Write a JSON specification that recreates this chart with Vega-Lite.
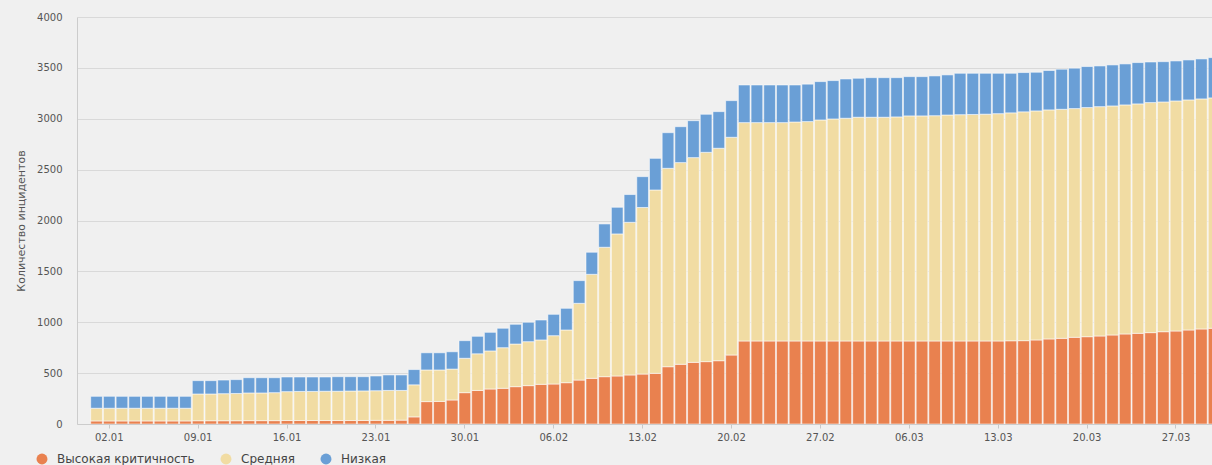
{
  "$schema": "https://vega.github.io/schema/vega-lite/v6.json",
  "width": 1135,
  "height": 407,
  "autosize": "none",
  "padding": {"left": 77, "top": 17, "right": 0, "bottom": 41},
  "background": "#f0f0f0",
  "config": {"view": {"stroke": null}, "font": "DejaVu Sans"},
  "data": {"values": [
    {"date": "2017/01/01", "c": 30, "b": 125, "a": 117},
    {"date": "2017/01/02", "c": 30, "b": 125, "a": 117},
    {"date": "2017/01/03", "c": 30, "b": 125, "a": 117},
    {"date": "2017/01/04", "c": 30, "b": 125, "a": 117},
    {"date": "2017/01/05", "c": 30, "b": 125, "a": 117},
    {"date": "2017/01/06", "c": 30, "b": 125, "a": 117},
    {"date": "2017/01/07", "c": 30, "b": 125, "a": 117},
    {"date": "2017/01/08", "c": 30, "b": 125, "a": 117},
    {"date": "2017/01/09", "c": 32, "b": 263, "a": 131},
    {"date": "2017/01/10", "c": 32, "b": 263, "a": 131},
    {"date": "2017/01/11", "c": 32, "b": 266, "a": 134},
    {"date": "2017/01/12", "c": 32, "b": 268, "a": 136},
    {"date": "2017/01/13", "c": 33, "b": 272, "a": 150},
    {"date": "2017/01/14", "c": 33, "b": 272, "a": 150},
    {"date": "2017/01/15", "c": 33, "b": 275, "a": 147},
    {"date": "2017/01/16", "c": 34, "b": 284, "a": 144},
    {"date": "2017/01/17", "c": 34, "b": 286, "a": 142},
    {"date": "2017/01/18", "c": 34, "b": 286, "a": 142},
    {"date": "2017/01/19", "c": 34, "b": 288, "a": 140},
    {"date": "2017/01/20", "c": 34, "b": 288, "a": 143},
    {"date": "2017/01/21", "c": 34, "b": 290, "a": 141},
    {"date": "2017/01/22", "c": 35, "b": 290, "a": 140},
    {"date": "2017/01/23", "c": 36, "b": 291, "a": 145},
    {"date": "2017/01/24", "c": 36, "b": 294, "a": 152},
    {"date": "2017/01/25", "c": 38, "b": 292, "a": 152},
    {"date": "2017/01/26", "c": 70, "b": 315, "a": 150},
    {"date": "2017/01/27", "c": 220, "b": 311, "a": 169},
    {"date": "2017/01/28", "c": 222, "b": 309, "a": 169},
    {"date": "2017/01/29", "c": 236, "b": 304, "a": 170},
    {"date": "2017/01/30", "c": 308, "b": 338, "a": 173},
    {"date": "2017/01/31", "c": 330, "b": 360, "a": 172},
    {"date": "2017/02/01", "c": 344, "b": 374, "a": 183},
    {"date": "2017/02/02", "c": 351, "b": 399, "a": 191},
    {"date": "2017/02/03", "c": 367, "b": 419, "a": 194},
    {"date": "2017/02/04", "c": 377, "b": 432, "a": 191},
    {"date": "2017/02/05", "c": 390, "b": 436, "a": 196},
    {"date": "2017/02/06", "c": 393, "b": 475, "a": 210},
    {"date": "2017/02/07", "c": 406, "b": 518, "a": 213},
    {"date": "2017/02/08", "c": 432, "b": 754, "a": 223},
    {"date": "2017/02/09", "c": 449, "b": 1022, "a": 217},
    {"date": "2017/02/10", "c": 465, "b": 1272, "a": 229},
    {"date": "2017/02/11", "c": 472, "b": 1396, "a": 262},
    {"date": "2017/02/12", "c": 482, "b": 1500, "a": 273},
    {"date": "2017/02/13", "c": 491, "b": 1637, "a": 303},
    {"date": "2017/02/14", "c": 498, "b": 1802, "a": 311},
    {"date": "2017/02/15", "c": 563, "b": 1950, "a": 350},
    {"date": "2017/02/16", "c": 587, "b": 1982, "a": 353},
    {"date": "2017/02/17", "c": 606, "b": 2012, "a": 363},
    {"date": "2017/02/18", "c": 613, "b": 2057, "a": 374},
    {"date": "2017/02/19", "c": 622, "b": 2088, "a": 360},
    {"date": "2017/02/20", "c": 678, "b": 2140, "a": 360},
    {"date": "2017/02/21", "c": 816, "b": 2146, "a": 370},
    {"date": "2017/02/22", "c": 816, "b": 2146, "a": 370},
    {"date": "2017/02/23", "c": 816, "b": 2146, "a": 370},
    {"date": "2017/02/24", "c": 816, "b": 2146, "a": 370},
    {"date": "2017/02/25", "c": 816, "b": 2152, "a": 364},
    {"date": "2017/02/26", "c": 816, "b": 2156, "a": 368},
    {"date": "2017/02/27", "c": 816, "b": 2172, "a": 377},
    {"date": "2017/02/28", "c": 816, "b": 2182, "a": 377},
    {"date": "2017/03/01", "c": 816, "b": 2189, "a": 386},
    {"date": "2017/03/02", "c": 816, "b": 2199, "a": 383},
    {"date": "2017/03/03", "c": 816, "b": 2199, "a": 389},
    {"date": "2017/03/04", "c": 816, "b": 2199, "a": 389},
    {"date": "2017/03/05", "c": 816, "b": 2202, "a": 386},
    {"date": "2017/03/06", "c": 816, "b": 2212, "a": 386},
    {"date": "2017/03/07", "c": 816, "b": 2212, "a": 386},
    {"date": "2017/03/08", "c": 816, "b": 2214, "a": 391},
    {"date": "2017/03/09", "c": 816, "b": 2221, "a": 394},
    {"date": "2017/03/10", "c": 816, "b": 2224, "a": 407},
    {"date": "2017/03/11", "c": 816, "b": 2226, "a": 405},
    {"date": "2017/03/12", "c": 816, "b": 2229, "a": 402},
    {"date": "2017/03/13", "c": 816, "b": 2234, "a": 397},
    {"date": "2017/03/14", "c": 818, "b": 2240, "a": 389},
    {"date": "2017/03/15", "c": 819, "b": 2249, "a": 386},
    {"date": "2017/03/16", "c": 826, "b": 2251, "a": 380},
    {"date": "2017/03/17", "c": 836, "b": 2251, "a": 387},
    {"date": "2017/03/18", "c": 842, "b": 2251, "a": 394},
    {"date": "2017/03/19", "c": 852, "b": 2248, "a": 397},
    {"date": "2017/03/20", "c": 858, "b": 2252, "a": 403},
    {"date": "2017/03/21", "c": 865, "b": 2254, "a": 400},
    {"date": "2017/03/22", "c": 875, "b": 2251, "a": 403},
    {"date": "2017/03/23", "c": 885, "b": 2251, "a": 403},
    {"date": "2017/03/24", "c": 891, "b": 2255, "a": 406},
    {"date": "2017/03/25", "c": 898, "b": 2261, "a": 399},
    {"date": "2017/03/26", "c": 907, "b": 2258, "a": 396},
    {"date": "2017/03/27", "c": 914, "b": 2261, "a": 393},
    {"date": "2017/03/28", "c": 924, "b": 2261, "a": 393},
    {"date": "2017/03/29", "c": 934, "b": 2261, "a": 393},
    {"date": "2017/03/30", "c": 941, "b": 2264, "a": 396}
  ]},
  "transform": [{"fold": ["c", "b", "a"], "as": ["level", "count"]}],
  "mark": {"type": "bar", "stroke": "#ffffff", "strokeWidth": 1, "strokeOpacity": 0.55, "clip": true},
  "encoding": {
    "x": {
      "field": "date", "type": "temporal", "timeUnit": "yearmonthdate",
      "scale": {"domain": [{"year": 2016, "month": 12, "date": 31}, {"year": 2017, "month": 3, "date": 30, "hours": 9}]},
      "axis": {
        "title": null, "grid": false, "format": "%d.%m",
        "values": [
          {"year": 2017, "month": 1, "date": 2, "hours": 12},
          {"year": 2017, "month": 1, "date": 9, "hours": 12},
          {"year": 2017, "month": 1, "date": 16, "hours": 12},
          {"year": 2017, "month": 1, "date": 23, "hours": 12},
          {"year": 2017, "month": 1, "date": 30, "hours": 12},
          {"year": 2017, "month": 2, "date": 6, "hours": 12},
          {"year": 2017, "month": 2, "date": 13, "hours": 12},
          {"year": 2017, "month": 2, "date": 20, "hours": 12},
          {"year": 2017, "month": 2, "date": 27, "hours": 12},
          {"year": 2017, "month": 3, "date": 6, "hours": 12},
          {"year": 2017, "month": 3, "date": 13, "hours": 12},
          {"year": 2017, "month": 3, "date": 20, "hours": 12},
          {"year": 2017, "month": 3, "date": 27, "hours": 12}
        ],
        "tickSize": 4, "tickColor": "#c8c8c8", "domainColor": "#cccccc",
        "labelFontSize": 10, "labelColor": "#555555", "labelPadding": 4
      }
    },
    "y": {
      "field": "count", "type": "quantitative", "stack": "zero",
      "scale": {"domain": [0, 4000]},
      "axis": {
        "values": [0, 500, 1000, 1500, 2000, 2500, 3000, 3500, 4000], "format": "d",
        "title": "Количество инцидентов", "ticks": false, "labelPadding": 15,
        "gridColor": "#d9d9d9", "domainColor": "#cccccc",
        "labelFontSize": 10, "labelColor": "#555555",
        "titleFontSize": 11, "titleFontWeight": "normal", "titleColor": "#555555", "titlePadding": 10
      }
    },
    "order": {"field": "level", "type": "nominal", "sort": "descending"},
    "color": {
      "field": "level", "type": "nominal", "sort": ["c", "b", "a"],
      "scale": {"domain": ["c", "b", "a"], "range": ["#E9814F", "#F1DCA3", "#6A9FD6"]},
      "legend": {
        "orient": "none", "legendX": -41, "legendY": 436, "direction": "horizontal",
        "title": null, "symbolType": "circle", "symbolSize": 120, "symbolStrokeWidth": 0,
        "labelFontSize": 12, "labelColor": "#444444", "columnPadding": 25, "labelOffset": 9,
        "labelExpr": "datum.value == 'c' ? 'Высокая критичность' : datum.value == 'b' ? 'Средняя' : 'Низкая'"
      }
    }
  }
}
